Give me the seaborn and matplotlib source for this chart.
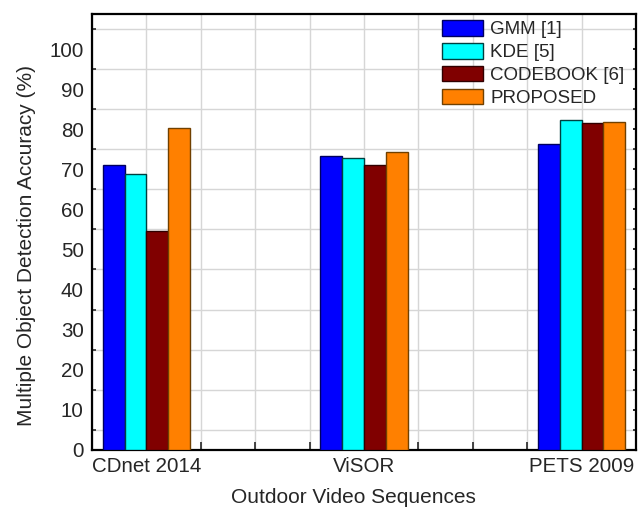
import numpy as np
import pandas as pd
import seaborn as sns
import matplotlib.pyplot as plt
from matplotlib.ticker import MultipleLocator

# ---------------- Data ----------------
sequences = ["CDnet 2014", "ViSOR", "PETS 2009"]
methods = ["GMM [1]", "KDE [5]", "CODEBOOK [6]", "PROPOSED"]

gmm = [71.0, 73.4, 76.3]
kde = [68.9, 72.8, 82.3]
codebook = [54.7, 71.1, 81.6]
proposed = [80.2, 74.3, 81.8]

colors = ["#0000FF", "#00FFFF", "#800000", "#FF8000"]
edge_colors = ["#000060", "#004040", "#300000", "#704000"]

df = pd.DataFrame({
    "sequence": sequences * 4,
    "method": np.repeat(methods, len(sequences)),
    "accuracy": gmm + kde + codebook + proposed,
})

# ---------------- Plot ----------------
sns.set_style("white")
plt.rcParams["font.family"] = ["Liberation Sans", "DejaVu Sans"]

fig = plt.figure(figsize=(6.44, 5.07), dpi=100)
ax = fig.add_axes([92 / 644, 1 - 449.7 / 507, 544 / 644, 435.4 / 507])

sns.barplot(
    data=df, x="sequence", y="accuracy", hue="method",
    order=sequences, hue_order=methods, palette=colors,
    width=0.4, linewidth=1, saturation=1, ax=ax,
)

for cont, ec in zip(ax.containers, edge_colors):
    for bar in cont.patches:
        bar.set_edgecolor(ec)
        bar.set_zorder(3)

# axes limits / ticks
ax.set_xlim(-0.25, 2.25)
ax.set_ylim(0, 108.7)
ax.xaxis.set_minor_locator(MultipleLocator(0.25))
ax.yaxis.set_major_locator(MultipleLocator(10))
ax.yaxis.set_minor_locator(MultipleLocator(5))

ax.set_axisbelow(True)
ax.grid(False)
ax.xaxis.grid(True, which="both", color="#d6d6d6", linewidth=1)
ax.yaxis.grid(True, which="minor", color="#d6d6d6", linewidth=1)

ax.tick_params(axis="both", which="major", direction="in", length=6,
               width=1.2, color="black", labelsize=14.8)
ax.tick_params(axis="y", which="major", pad=6)
ax.tick_params(axis="x", which="major", pad=5)
ax.tick_params(axis="y", which="minor", direction="in", length=3, width=1.2,
               left=True)
ax.tick_params(axis="x", which="minor", direction="in", length=6, width=1.2,
               bottom=True)

# short outward ticks on the right edge
ax.tick_params(axis="y", which="both", right=True)
for t in ax.yaxis.get_major_ticks() + ax.yaxis.get_minor_ticks():
    t.tick2line.set_marker(0)  # TICKRIGHT
    t.tick2line.set_markersize(2.5)

for s in ax.spines.values():
    s.set_color("black")
    s.set_linewidth(1.6)
    s.set_visible(True)

ax.set_xlabel("Outdoor Video Sequences", fontsize=15)
ax.set_ylabel("Multiple Object Detection Accuracy (%)", fontsize=15)
ax.xaxis.set_label_coords(0.48, -0.088)
ax.yaxis.set_label_coords(-0.103, 0.47)

sns.move_legend(
    ax, "upper left", bbox_to_anchor=(442 / 644, 1 - 20 / 507),
    bbox_transform=fig.transFigure, frameon=False, title=None,
    fontsize=13.5, borderpad=0, borderaxespad=0, labelspacing=0.25,
    handlelength=2.19, handleheight=0.9, handletextpad=0.37,
)
for h, ec in zip(ax.get_legend().legend_handles, edge_colors):
    h.set_edgecolor(ec)
    h.set_linewidth(1)

plt.savefig("out.png", dpi=100)
plt.close()
